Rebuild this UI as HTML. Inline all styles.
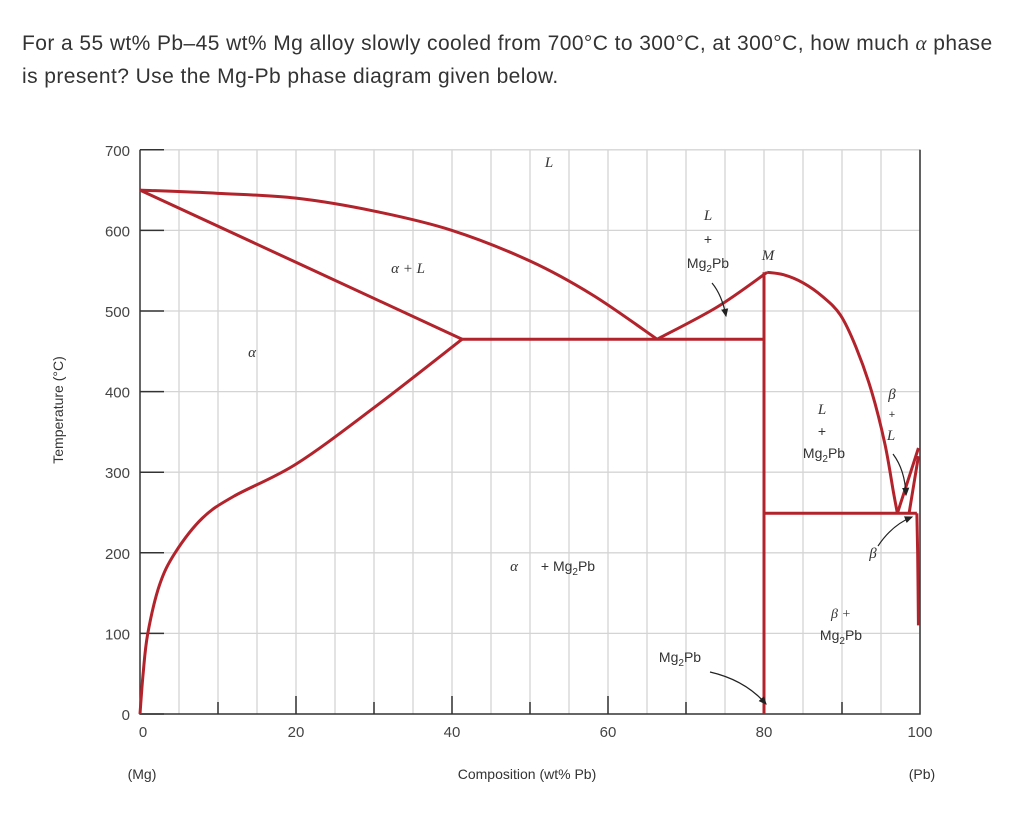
<!DOCTYPE html>
<html><head><meta charset="utf-8"><style>
body{margin:0;background:#fff;width:1024px;height:814px;overflow:hidden;font-family:"Liberation Sans",sans-serif}
.q{position:absolute;left:22px;top:27px;font-size:21px;letter-spacing:0.42px;color:#333;line-height:33px;width:1000px;white-space:nowrap}
</style></head><body>
<div class="q">For a 55 wt% Pb–45 wt% Mg alloy slowly cooled from 700°C to 300°C, at 300°C, how much <i style="font-family:'Liberation Serif',serif">α</i> phase<br>is present? Use the Mg-Pb phase diagram given below.</div>
<svg id="chart" width="1024" height="814" style="position:absolute;left:0;top:0">
<defs><marker id="ah" markerWidth="8" markerHeight="8" refX="6" refY="4" orient="auto"><path d="M0,1 L7,4 L0,7 z" fill="#222"/></marker></defs>
<g id="grid"></g><g id="axes"></g><g id="curves"></g><g id="labels"></g>
</svg>
<script>
const xTicks=[0,20,40,60,80,100];
const yTicks=[0,100,200,300,400,500,600,700];
const liquidusLeft=[[0,650],[10,646],[20,640],[30,624],[40,600],[50,562],[58,520],[66.3,465]];
const solidusLeft=[[0,650],[41.3,465]];
const solvusLeft=[[41.3,465],[30,380],[20,310],[12,270],[8,243],[4.5,200],[2.5,160],[1,100],[0.4,50],[0,0]];
const eutecticLeft=[[41.3,465],[80,465]];
const liquidusMid=[[66.3,465],[74,505],[80.4,548]];
const liquidusRight=[[80.4,548],[82.5,545],[85,535],[87.5,518],[89.8,495],[91.8,455],[93.8,400],[95.5,335],[96.6,275],[97.1,249]];
const betaLiquidus=[[97.1,249],[99.8,330]];
const betaSolidus=[[98.6,249],[99.8,320]];
const betaSolvus=[[99.6,249],[99.7,200],[99.8,110]];
const eutecticRight=[[80,249],[99.6,249]];
const compound=[[80,548],[80,0]];
const X=v=>140+v*7.8, Y=t=>714-t*0.806;
const S='http://www.w3.org/2000/svg';
function mk(g,tag,a){const e=document.createElementNS(S,tag);for(const k in a)e.setAttribute(k,a[k]);document.getElementById(g).appendChild(e);return e;}
for(let v=5;v<=100;v+=5){const e=mk('grid','line',{x1:X(v),x2:X(v),y1:Y(700),y2:Y(0),stroke:'#d4d4d4','stroke-width':1.3});

}
yTicks.forEach(t=>{if(t>0){const e=mk('grid','line',{x1:X(0),x2:X(100),y1:Y(t),y2:Y(t),stroke:'#d4d4d4','stroke-width':1.3});

}});
let a=mk('axes','path',{d:`M${X(0)},${Y(700)}V${Y(0)}H${X(100)}V${Y(700)}`,fill:'none',stroke:'#333','stroke-width':1.5});


yTicks.forEach(t=>{const l=mk('axes','line',{x1:X(0),x2:X(0)+24,y1:Y(t),y2:Y(t),stroke:'#333','stroke-width':1.5});


const tx=mk('labels','text',{x:130,y:Y(t)+6,'text-anchor':'end','font-size':15,fill:'#444'});tx.textContent=t;

});
for(let v=10;v<100;v+=10){const l=mk('axes','line',{x1:X(v),x2:X(v),y1:Y(0),y2:Y(0)-(v%20?12:18),stroke:'#333','stroke-width':1.5});

}
xTicks.forEach(v=>{const tx=mk('labels','text',{x:X(v)+(v==0?3:0),y:737,'text-anchor':'middle','font-size':15,fill:'#444'});tx.textContent=v;

});
function poly(pts,name){const P=pts.map(p=>[X(p[0]),Y(p[1])]);let d='M'+P[0];
for(let i=0;i<P.length-1;i++){const p0=P[i-1]||P[i],p1=P[i],p2=P[i+1],p3=P[i+2]||p2;
d+=`C${p1[0]+(p2[0]-p0[0])/6},${p1[1]+(p2[1]-p0[1])/6} ${p2[0]-(p3[0]-p1[0])/6},${p2[1]-(p3[1]-p1[1])/6} ${p2[0]},${p2[1]}`;}
const e=mk('curves','path',{d:d,fill:'none',stroke:'#b3232c','stroke-width':3,'stroke-linejoin':'round'});

}
poly(liquidusLeft,'liquidus-left');poly(solidusLeft,'solidus-alpha');poly(solvusLeft,'solvus-alpha');
poly(eutecticLeft,'eutectic-line-left');poly(liquidusMid,'liquidus-mg2pb-left');poly(liquidusRight,'liquidus-mg2pb-right');
poly(betaLiquidus,'liquidus-beta');poly(betaSolidus,'solidus-beta');poly(betaSolvus,'solvus-beta');
poly(eutecticRight,'eutectic-line-right');poly(compound,'mg2pb-line');
function txt(x,y,s,o){const e=mk('labels','text',Object.assign({x:x,y:y,'font-size':14,fill:'#333','text-anchor':'middle'},o||{}));e.innerHTML=s;return e;}
const it={'font-family':'Liberation Serif,serif','font-style':'italic','font-size':15};
let L;
L=txt(549,167,'L',it);
L=txt(408,273,'α  + L',it);
L=txt(252,357,'α',it);
L=txt(708,220,'L',it);
txt(708,244,'+');txt(708,268,'Mg<tspan font-size="10" dy="4">2</tspan><tspan dy="-4">Pb</tspan>');
L=txt(768,260,'M',it);
txt(822,414,'L',it);txt(822,436,'+');txt(824,458,'Mg<tspan font-size="10" dy="4">2</tspan><tspan dy="-4">Pb</tspan>');
txt(892,399,'β',it);txt(892,418,'+',{'font-size':11});txt(891,440,'L',it);
txt(514,571,'α',it);txt(568,571,'+ Mg<tspan font-size="10" dy="4">2</tspan><tspan dy="-4">Pb</tspan>');
txt(841,618,'β +',Object.assign({},it,{'font-size':14}));txt(841,640,'Mg<tspan font-size="10" dy="4">2</tspan><tspan dy="-4">Pb</tspan>');
txt(873,558,'β',it);
txt(680,662,'Mg<tspan font-size="10" dy="4">2</tspan><tspan dy="-4">Pb</tspan>');
L=txt(527,779,'Composition (wt% Pb)');
txt(142,779,'(Mg)');txt(922,779,'(Pb)');
L=txt(0,0,'Temperature (°C)',{transform:'translate(63,410) rotate(-90)'});
[['M712,283 Q722,295 726,316'],['M710,672 Q745,680 766,704'],['M878,546 Q892,525 912,517'],['M893,454 Q905,470 906,495']].forEach(p=>{
const e=mk('labels','path',{d:p[0],fill:'none',stroke:'#222','stroke-width':1.2,'marker-end':'url(#ah)'});

});
</script>
</body></html>
